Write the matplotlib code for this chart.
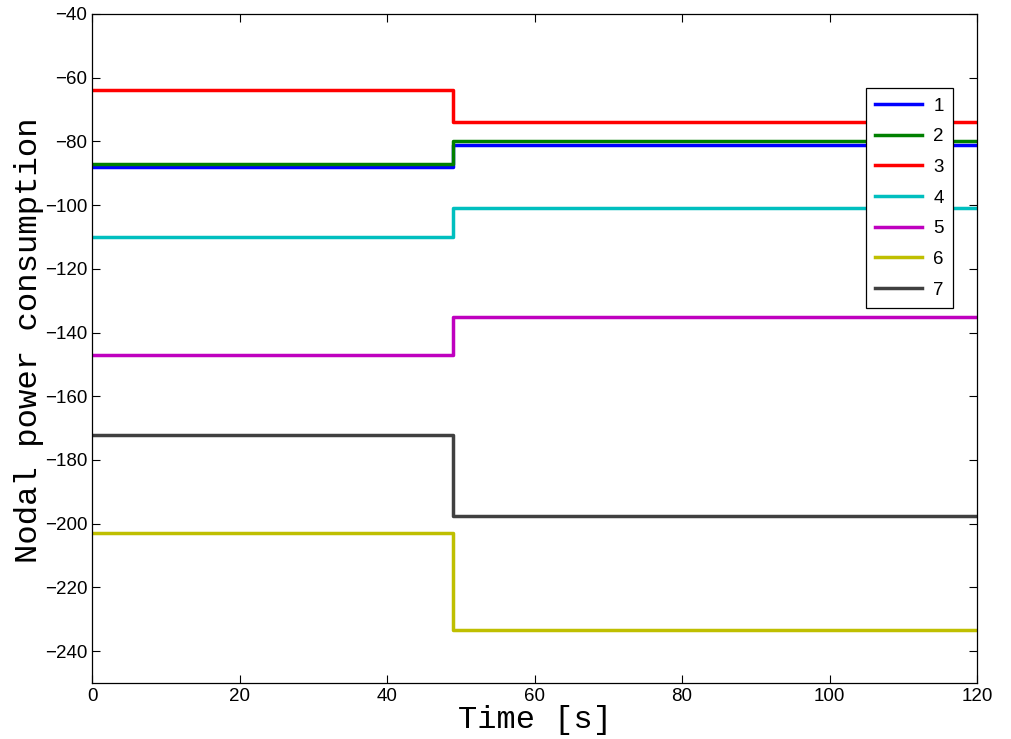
import matplotlib
matplotlib.use('Agg')
import matplotlib.pyplot as plt
import numpy as np

# time instants: start, switching time, end
t = np.array([0, 49, 120])

labels = ['1', '2', '3', '4', '5', '6', '7']
before = [-88, -87, -64, -110, -147, -203, -172]
after = [-81, -80, -74, -101, -135, -233.5, -197.5]
colors = [(0, 0, 1), (0, 0.5, 0), (1, 0, 0), (0, 0.75, 0.75),
          (0.75, 0, 0.75), (0.75, 0.75, 0), (0.25, 0.25, 0.25)]

fig = plt.figure(figsize=(10.11, 7.39), dpi=100)
ax = fig.add_axes([92/1011, 1-683/739, 885/1011, 669/739])

for lab, b, a, c in zip(labels, before, after, colors):
    ax.step(t, [b, a, a], where='post', color=c, lw=2.5, label=lab)

ax.set_xlim(0, 120)
ax.set_ylim(-250, -40)
ax.set_xticks(np.arange(0, 121, 20))
ax.set_yticks(np.arange(-240, -39, 20))
ax.tick_params(direction='in', top=True, right=True, length=6, labelsize=13.5)
for lbl in ax.get_xticklabels() + ax.get_yticklabels():
    lbl.set_family('Liberation Sans')
for s in ax.spines.values():
    s.set_linewidth(0.9)

ax.set_xlabel('Time [s]', family='Liberation Mono', fontsize=23, labelpad=0)
ax.set_ylabel('Nodal power consumption', family='Liberation Mono', fontsize=23.3, labelpad=0)
ax.yaxis.set_label_coords(-0.054, 0.512)

leg = ax.legend(loc='upper right', bbox_to_anchor=(0.973, 0.889), fancybox=False,
                edgecolor='black', framealpha=1, handlelength=2.5,
                prop={'family': 'Liberation Sans', 'size': 13.5},
                labelspacing=0.72, borderpad=0.5, handletextpad=0.6,
                borderaxespad=0)
leg.get_frame().set_linewidth(0.9)

fig.savefig('out.png', dpi=100)
